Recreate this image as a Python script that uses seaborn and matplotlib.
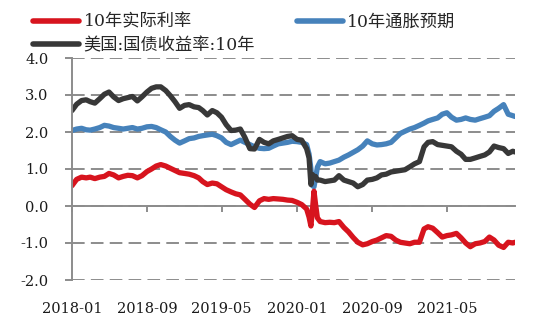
import numpy as np
import pandas as pd
import matplotlib
matplotlib.use("Agg")
import matplotlib.pyplot as plt
import matplotlib.dates as mdates
from matplotlib.ticker import FormatStrFormatter
import seaborn as sns

dates = [
    "2018-01-01", "2018-01-16", "2018-02-01", "2018-02-16", "2018-03-01", "2018-03-16",
    "2018-04-01", "2018-04-16", "2018-05-01", "2018-05-16", "2018-06-01", "2018-06-16",
    "2018-07-01", "2018-07-16", "2018-08-01", "2018-08-16", "2018-09-01", "2018-09-16",
    "2018-10-01", "2018-10-16", "2018-11-01", "2018-11-16", "2018-12-01", "2018-12-16",
    "2019-01-01", "2019-01-16", "2019-02-01", "2019-02-16", "2019-03-01", "2019-03-16",
    "2019-04-01", "2019-04-16", "2019-05-01", "2019-05-16", "2019-06-01", "2019-06-16",
    "2019-07-01", "2019-07-16", "2019-08-01", "2019-08-16", "2019-09-01", "2019-09-16",
    "2019-10-01", "2019-10-16", "2019-11-01", "2019-11-16", "2019-12-01", "2019-12-16",
    "2020-01-01", "2020-01-16", "2020-02-01", "2020-02-09", "2020-02-15", "2020-02-20",
    "2020-02-25", "2020-03-01", "2020-03-07", "2020-03-16", "2020-04-01", "2020-04-16",
    "2020-05-01", "2020-05-16", "2020-06-01", "2020-06-16", "2020-07-01", "2020-07-16",
    "2020-08-01", "2020-08-16", "2020-09-01", "2020-09-16", "2020-10-01", "2020-10-16",
    "2020-11-01", "2020-11-16", "2020-12-01", "2020-12-16", "2021-01-01", "2021-01-16",
    "2021-02-01", "2021-02-16", "2021-03-01", "2021-03-16", "2021-04-01", "2021-04-16",
    "2021-05-01", "2021-05-16", "2021-06-01", "2021-06-16", "2021-07-01", "2021-07-16",
    "2021-08-01", "2021-08-16", "2021-09-01", "2021-09-16", "2021-10-01", "2021-10-16",
    "2021-11-01", "2021-11-16", "2021-12-01", "2021-12-08",
]

ust10y = [
    2.58, 2.75, 2.85, 2.87, 2.82, 2.78, 2.90, 3.02, 3.08, 2.95, 2.85, 2.90,
    2.93, 2.96, 2.84, 2.95, 3.08, 3.18, 3.22, 3.22, 3.12, 2.98, 2.82, 2.64,
    2.72, 2.74, 2.68, 2.66, 2.58, 2.46, 2.58, 2.52, 2.40, 2.20, 2.04, 2.05,
    2.08, 1.85, 1.55, 1.54, 1.80, 1.72, 1.68, 1.76, 1.80, 1.84, 1.88, 1.90,
    1.80, 1.78, 1.55, 1.30, 0.58, 0.85, 0.78, 0.80, 0.70, 0.70, 0.66, 0.68,
    0.70, 0.82, 0.70, 0.66, 0.62, 0.52, 0.58, 0.70, 0.72, 0.76, 0.84, 0.86,
    0.92, 0.94, 0.96, 0.98, 1.06, 1.14, 1.20, 1.60, 1.72, 1.74, 1.66, 1.64,
    1.62, 1.60, 1.48, 1.40, 1.26, 1.26, 1.30, 1.34, 1.38, 1.46, 1.62, 1.58,
    1.55, 1.42, 1.48, 1.46,
]

breakeven = [
    2.04, 2.08, 2.10, 2.06, 2.05, 2.08, 2.12, 2.18, 2.16, 2.12, 2.10, 2.08,
    2.10, 2.12, 2.08, 2.10, 2.14, 2.15, 2.12, 2.06, 2.00, 1.88, 1.78, 1.70,
    1.76, 1.82, 1.84, 1.88, 1.90, 1.92, 1.94, 1.90, 1.84, 1.72, 1.66, 1.72,
    1.78, 1.72, 1.66, 1.60, 1.56, 1.55, 1.56, 1.62, 1.68, 1.70, 1.72, 1.75,
    1.74, 1.72, 1.66, 1.40, 1.00, 0.55, 0.52, 0.75, 1.05, 1.20, 1.14, 1.16,
    1.20, 1.24, 1.32, 1.38, 1.45, 1.52, 1.62, 1.76, 1.68, 1.65, 1.66, 1.68,
    1.72, 1.84, 1.96, 2.02, 2.08, 2.12, 2.18, 2.24, 2.30, 2.34, 2.38, 2.48,
    2.52, 2.40, 2.32, 2.34, 2.38, 2.34, 2.32, 2.36, 2.40, 2.44, 2.56, 2.64,
    2.74, 2.48, 2.44, 2.42,
]

real_rate = [
    0.55, 0.72, 0.78, 0.76, 0.78, 0.74, 0.78, 0.80, 0.88, 0.84, 0.76, 0.80,
    0.83, 0.82, 0.76, 0.82, 0.93, 1.00, 1.08, 1.12, 1.08, 1.02, 0.96, 0.90,
    0.88, 0.86, 0.82, 0.76, 0.66, 0.58, 0.62, 0.60, 0.52, 0.44, 0.38, 0.33,
    0.30, 0.18, 0.05, -0.04, 0.14, 0.20, 0.18, 0.20, 0.19, 0.18, 0.16, 0.15,
    0.10, 0.04, -0.08, -0.30, -0.54, -0.10, 0.40, 0.05, -0.32, -0.42, -0.45, -0.44,
    -0.45, -0.42, -0.58, -0.70, -0.85, -0.98, -1.05, -1.02, -0.96, -0.92, -0.86, -0.80,
    -0.82, -0.92, -0.98, -1.00, -1.02, -0.98, -0.98, -0.62, -0.56, -0.60, -0.72, -0.84,
    -0.80, -0.78, -0.74, -0.86, -1.00, -1.10, -1.02, -1.00, -0.96, -0.84, -0.92, -1.06,
    -1.12, -0.98, -1.00, -0.98,
]

series_names = ["10年实际利率", "10年通胀预期", "美国:国债收益率:10年"]
tick_months = ["2018-01", "2018-09", "2019-05", "2020-01", "2020-09", "2021-05"]
y_ticks = [-2.0, -1.0, 0.0, 1.0, 2.0, 3.0, 4.0]

colors = {"10年实际利率": "#d7141e", "10年通胀预期": "#4682bb", "美国:国债收益率:10年": "#383838"}
grid_gray = "#8c8c8c"

sns.set_theme(style="white")
plt.rcParams["font.family"] = ["DejaVu Serif", "Noto Sans CJK SC"]
plt.rcParams["axes.unicode_minus"] = False

xnum = mdates.date2num(pd.to_datetime(dates))
df = pd.DataFrame({
    "x": np.tile(xnum, 3),
    "value": real_rate + breakeven + ust10y,
    "series": np.repeat(series_names, len(dates)),
})

fig = plt.figure(figsize=(5.5, 3.35), dpi=100)
W, H = 550, 335
ax = fig.add_axes([72 / W, 1 - 280 / H, (515 - 72) / W, 222 / H])

handles = {}
for name in ["10年通胀预期", "10年实际利率", "美国:国债收益率:10年"]:
    sub = df[df["series"] == name]
    sns.lineplot(data=sub, x="x", y="value", color=colors[name], linewidth=3.8,
                 ax=ax, label=name, legend=False, sort=False, estimator=None)
    handles[name] = ax.get_lines()[-1]

ax.set_ylim(-2, 4)
ax.set_xlim(xnum[0], xnum[-1])
ax.set_yticks(y_ticks)
ax.yaxis.set_major_formatter(FormatStrFormatter("%.1f"))
tick_pos = mdates.date2num(pd.to_datetime(tick_months))
ax.set_xticks(tick_pos)
ax.set_xticklabels(tick_months)
ax.set_xlabel("")
ax.set_ylabel("")

ax.grid(axis="y", color=grid_gray, linewidth=1.4, linestyle=(0, (6.5, 3.2)))
ax.grid(axis="x", visible=False)
for s in ["top", "right", "bottom"]:
    ax.spines[s].set_visible(False)
ax.spines["left"].set_color(grid_gray)
ax.spines["left"].set_linewidth(1.4)

ax.tick_params(axis="y", direction="out", length=5, width=1.4, color=grid_gray,
               pad=12, labelsize=10.5, labelcolor="#1a1a1a", left=True)
ax.tick_params(axis="x", length=0, pad=16, labelsize=10.5, labelcolor="#1a1a1a")

zero_frac = (0 - (-2)) / 6
sec = ax.secondary_xaxis(zero_frac)
sec.set_xticks(tick_pos)
sec.set_xticklabels([])
sec.tick_params(axis="x", direction="out", length=4.5, width=1.4, color=grid_gray)
for sp in sec.spines.values():
    sp.set_color(grid_gray)
    sp.set_linewidth(1.4)

order = ["10年实际利率", "美国:国债收益率:10年", "10年通胀预期"]
leg = fig.legend([handles[n] for n in order], order, ncol=2, loc="upper left",
                 bbox_to_anchor=(26 / W, 1 - 7 / H), frameon=False, fontsize=12.4,
                 handlelength=2.7, handletextpad=0.25, columnspacing=2.4,
                 labelspacing=0.38, borderaxespad=0)
for line in leg.get_lines():
    line.set_linewidth(4)

fig.savefig("out.png", dpi=100)
